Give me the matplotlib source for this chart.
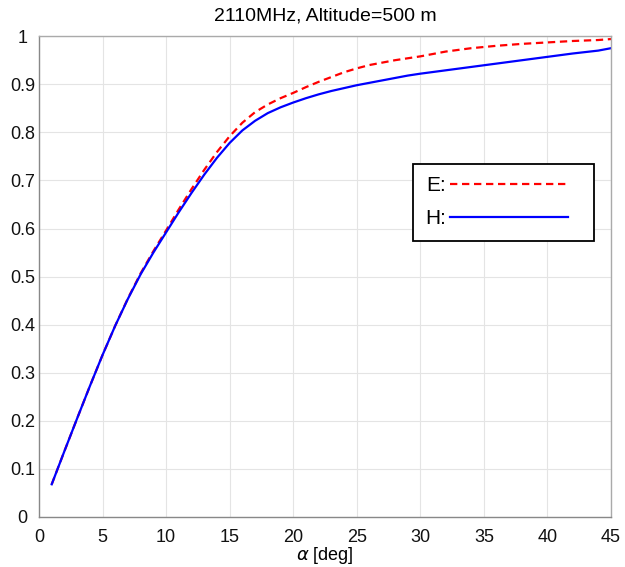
import matplotlib
matplotlib.use("Agg")
import matplotlib.pyplot as plt
from matplotlib.legend_handler import HandlerLine2D
import numpy as np

plt.rcParams['font.family'] = ['Liberation Sans', 'DejaVu Sans']

alpha_deg = [1, 2, 3, 4, 5, 6, 7, 8, 9, 10, 11, 12, 13, 14, 15, 16, 17, 18, 19, 20,
             21, 22, 23, 24, 25, 26, 27, 28, 29, 30, 32, 34, 36, 38, 40, 42, 44, 45]
E_vals = [0.068, 0.137, 0.205, 0.272, 0.337, 0.398, 0.455, 0.507, 0.553, 0.596,
          0.640, 0.682, 0.722, 0.759, 0.792, 0.820, 0.842, 0.858, 0.871, 0.882,
          0.894, 0.905, 0.915, 0.925, 0.933, 0.940, 0.945, 0.950, 0.954, 0.958,
          0.968, 0.975, 0.980, 0.984, 0.987, 0.990, 0.992, 0.994]
H_vals = [0.068, 0.137, 0.205, 0.272, 0.337, 0.398, 0.454, 0.505, 0.550, 0.592,
          0.634, 0.674, 0.712, 0.747, 0.778, 0.804, 0.824, 0.840, 0.852, 0.862,
          0.871, 0.879, 0.886, 0.892, 0.898, 0.903, 0.908, 0.913, 0.918, 0.922,
          0.929, 0.936, 0.943, 0.950, 0.957, 0.964, 0.970, 0.975]

title = "2110MHz, Altitude=500 m"
xlabel = r"$\alpha$ [deg]"
xticks = [0, 5, 10, 15, 20, 25, 30, 35, 40, 45]
yticks = [0, 0.1, 0.2, 0.3, 0.4, 0.5, 0.6, 0.7, 0.8, 0.9, 1.0]
ytick_labels = ["0", "0.1", "0.2", "0.3", "0.4", "0.5", "0.6", "0.7", "0.8", "0.9", "1"]


class PaddedLineHandler(HandlerLine2D):
    """Line handle that leaves empty space at its right end."""
    def __init__(self, frac=0.9, **kw):
        super().__init__(**kw)
        self.frac = frac

    def get_xdata(self, legend, xdescent, ydescent, width, height, fontsize):
        x0 = -xdescent
        xd = np.array([x0, x0 + width * self.frac])
        return xd, xd


fig = plt.figure(figsize=(6.25, 5.67), dpi=100)
ax = fig.add_axes([0.0624, 0.0882, 0.9152, 0.8480])

ln_e, = ax.plot(alpha_deg, E_vals, color='#ff0000', linestyle=(0, (3.3, 2.1)),
                linewidth=1.6, label='E:')
ln_h, = ax.plot(alpha_deg, H_vals, color='#0000ff', linestyle='-', linewidth=1.6,
                label='H:')

ax.set_xlim(0, 45)
ax.set_ylim(0, 1)
ax.set_xticks(xticks)
ax.set_yticks(yticks)
ax.set_yticklabels(ytick_labels)
ax.grid(True, color='#e4e4e4', linewidth=0.8)
ax.set_axisbelow(True)
for s in ax.spines.values():
    s.set_color('#aaaaaa')
    s.set_linewidth(1.0)
ax.spines['left'].set_color('#888888')
ax.spines['bottom'].set_color('#888888')

ax.tick_params(axis='both', length=0, labelsize=13, colors='#111111')
ax.tick_params(axis='x', pad=9)
ax.tick_params(axis='y', pad=12)
for lab in ax.get_yticklabels():
    lab.set_horizontalalignment('center')

ax.set_title(title, fontsize=14, pad=11)
ax.set_xlabel(xlabel, fontsize=13, labelpad=-1)

hl = PaddedLineHandler(frac=0.897)
leg = ax.legend(loc='upper left', bbox_to_anchor=(0.654, 0.735), markerfirst=False,
                fontsize=15, handlelength=6.31, handletextpad=0.15, fancybox=False,
                framealpha=1, edgecolor='black', borderaxespad=0, borderpad=0.6,
                labelspacing=0.68, handler_map={ln_e: hl, ln_h: hl})
leg.get_frame().set_linewidth(1.3)

fig.savefig('out.png', dpi=100)
